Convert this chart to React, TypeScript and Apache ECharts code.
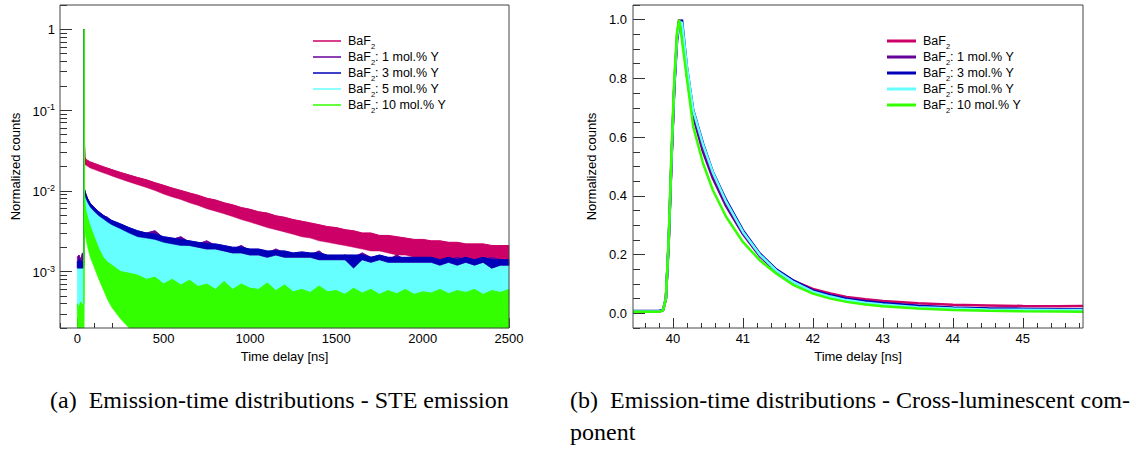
import React, { useEffect, useRef } from 'react';
import * as echarts from 'echarts';

// ---------- shared ----------
const seriesNames = ['BaF₂', 'BaF₂: 1 mol.% Y', 'BaF₂: 3 mol.% Y', 'BaF₂: 5 mol.% Y', 'BaF₂: 10 mol.% Y'];
const seriesColors = ['#cc0066', '#660099', '#0000b8', '#66ffff', '#33ff00'];

// ---------- (a) STE emission, log scale ----------
const steTime = [0, 10, 20, 30, 38, 40, 42, 45, 50, 60, 75, 100, 125, 150, 175, 200, 250,
  300, 350, 400, 450, 500, 550, 600, 650, 700, 750, 800, 850, 900, 950, 1000, 1050, 1100, 1150, 1200, 1250,
  1300, 1350, 1400, 1450, 1500, 1550, 1600, 1650, 1700, 1750, 1800, 1850, 1900, 1950, 2000, 2050, 2100, 2150,
  2200, 2250, 2300, 2350, 2400, 2450, 2500];

const steBaF2Upper = [0.00118, 0.00118, 0.00118, 0.00118, 0.00118, 1, 0.038, 0.026, 0.0245, 0.0238, 0.0228, 0.0218, 0.0208, 0.0199, 0.0191, 0.0183, 0.0169,
  0.0157, 0.0146, 0.0137, 0.0126, 0.0117, 0.0108, 0.0101, 0.0094, 0.0088, 0.0081, 0.0077, 0.0071, 0.0067, 0.0062, 0.0059,
  0.0055, 0.0053, 0.0049, 0.0047, 0.0044, 0.0042, 0.0040, 0.0038, 0.0036, 0.0035, 0.0033, 0.0032, 0.0030, 0.0030, 0.0028,
  0.0028, 0.0027, 0.0026, 0.0025, 0.0025, 0.0024, 0.0024, 0.0023, 0.0023, 0.0022, 0.0022, 0.0022, 0.0021, 0.0021, 0.0021];
const steBaF2Lower = [0.00112, 0.00112, 0.00112, 0.00112, 0.00112, 0.020, 0.021, 0.0212, 0.0207, 0.0201, 0.0192, 0.0183, 0.0175, 0.0167, 0.0160, 0.0153, 0.0140,
  0.0129, 0.0119, 0.0110, 0.0101, 0.0091, 0.0084, 0.0078, 0.0071, 0.0066, 0.0060, 0.0056, 0.0052, 0.0048, 0.0044, 0.0041,
  0.0038, 0.0035, 0.0033, 0.0031, 0.0029, 0.0027, 0.0026, 0.0024, 0.0023, 0.0022, 0.0021, 0.0020, 0.0019, 0.0018, 0.0018,
  0.0017, 0.0016, 0.0016, 0.0015, 0.0015, 0.0015, 0.0014, 0.0014, 0.0014, 0.0013, 0.0013, 0.0013, 0.0013, 0.0013, 0.0013];

const steY1Upper = [0.0015, 0.0016, 0.0014, 0.0017, 0.0014, 1, 0.0104, 0.0097, 0.0091, 0.0079, 0.0069, 0.0062, 0.0054, 0.0049, 0.0047, 0.0042, 0.0038,
  0.0034, 0.0031, 0.0030, 0.0032, 0.0026, 0.0025, 0.0027, 0.0023, 0.0022, 0.0024, 0.0021, 0.0020, 0.0019, 0.0021, 0.0018,
  0.0018, 0.0017, 0.0019, 0.0017, 0.0016, 0.0017, 0.0016, 0.0018, 0.0015, 0.0015, 0.0016, 0.0015, 0.0017, 0.0015, 0.0015,
  0.0014, 0.0016, 0.0014, 0.0014, 0.0014, 0.0014, 0.0014, 0.0014, 0.0015, 0.0014, 0.0014, 0.0014, 0.0015, 0.0014, 0.0013];
const steY1Lower = [0.00115, 0.00115, 0.00115, 0.00115, 0.00115, 0.0082, 0.0096, 0.0090, 0.0083, 0.0074, 0.0065, 0.0057, 0.0051, 0.0047, 0.0043, 0.0040, 0.0036,
  0.0031, 0.0028, 0.0027, 0.0026, 0.0024, 0.0023, 0.0022, 0.0021, 0.0020, 0.0019, 0.0019, 0.0018, 0.0017, 0.0017, 0.0016,
  0.0016, 0.0015, 0.0016, 0.0015, 0.0015, 0.0015, 0.0015, 0.0014, 0.0014, 0.0014, 0.0014, 0.0012, 0.0014, 0.0013, 0.0014,
  0.0013, 0.0013, 0.0013, 0.0013, 0.0013, 0.0013, 0.0012, 0.0013, 0.0012, 0.0013, 0.0012, 0.0013, 0.0011, 0.0012, 0.0012];

const steY3Upper = [0.0013, 0.0014, 0.00135, 0.0013, 0.0013, 1, 0.0105, 0.0098, 0.0090, 0.0080, 0.0070, 0.0061, 0.0055, 0.0050, 0.0046, 0.0043, 0.0039,
  0.0035, 0.0032, 0.0030, 0.0029, 0.0027, 0.0026, 0.0025, 0.0024, 0.0023, 0.0022, 0.0022, 0.0021, 0.0020, 0.0020, 0.0019,
  0.0019, 0.0018, 0.0018, 0.0018, 0.0017, 0.00175, 0.0017, 0.0017, 0.0016, 0.0016, 0.0016, 0.0016, 0.0016, 0.0015, 0.0016,
  0.0015, 0.0015, 0.0015, 0.0015, 0.0015, 0.0015, 0.0014, 0.0015, 0.0014, 0.0015, 0.0014, 0.0015, 0.0014, 0.0014, 0.0014];
const steY3Lower = [0.0011, 0.0011, 0.0011, 0.0011, 0.0011, 0.0080, 0.0094, 0.0088, 0.0081, 0.0072, 0.0063, 0.0055, 0.0049, 0.0045, 0.0041, 0.0038, 0.0034,
  0.0030, 0.0027, 0.0026, 0.0025, 0.0023, 0.0022, 0.0021, 0.0021, 0.0020, 0.0019, 0.0019, 0.0018, 0.0017, 0.0017, 0.0016,
  0.0016, 0.0015, 0.0016, 0.0015, 0.0015, 0.0015, 0.0015, 0.0014, 0.0014, 0.0014, 0.0014, 0.0011, 0.0014, 0.0013, 0.0014,
  0.0013, 0.0013, 0.0013, 0.0013, 0.0013, 0.0013, 0.0012, 0.0013, 0.0012, 0.0013, 0.0012, 0.0013, 0.0011, 0.0012, 0.0012];

const steY5Upper = [0.0011, 0.0011, 0.0011, 0.0011, 0.0011, 1, 0.0099, 0.0093, 0.0085, 0.0076, 0.0066, 0.0058, 0.0052, 0.0047, 0.0043, 0.0040, 0.0036,
  0.0031, 0.0028, 0.0027, 0.0026, 0.0024, 0.0023, 0.0022, 0.0022, 0.0021, 0.0020, 0.0020, 0.0019, 0.0018, 0.0018, 0.0017,
  0.0017, 0.0016, 0.0017, 0.0016, 0.0016, 0.0016, 0.0016, 0.0015, 0.0015, 0.0015, 0.0015, 0.0012, 0.0015, 0.0014, 0.0015,
  0.0014, 0.0014, 0.0014, 0.0014, 0.0014, 0.0014, 0.0013, 0.0014, 0.0013, 0.0014, 0.0013, 0.0014, 0.0012, 0.0013, 0.0013];
const steY5Lower = [0.0003, 0.0003, 0.0003, 0.0003, 0.0003, 0.003, 0.0075, 0.0058, 0.0048, 0.0039, 0.0030, 0.0022, 0.0016, 0.0013, 0.0011, 0.00095, 0.00085,
  0.0008, 0.0004, 0.0004, 0.0004, 0.0004, 0.0004, 0.0004, 0.0004, 0.0004, 0.0004, 0.0004, 0.0004, 0.0004, 0.0004, 0.0004,
  0.0004, 0.0004, 0.0004, 0.0004, 0.0004, 0.0004, 0.0004, 0.0004, 0.0004, 0.0004, 0.0004, 0.0004, 0.0004, 0.0004, 0.0004,
  0.0004, 0.0004, 0.0004, 0.0004, 0.0004, 0.0004, 0.0004, 0.0004, 0.0004, 0.0004, 0.0004, 0.0004, 0.0004, 0.0004, 0.0004];

const steY10Upper = [0.0004, 0.00035, 0.00042, 0.00038, 0.0004, 1, 0.009, 0.0066, 0.0056, 0.0046, 0.0036, 0.0026, 0.0019, 0.0015, 0.0013, 0.0012, 0.0010,
  0.00095, 0.0009, 0.0008, 0.00085, 0.0007, 0.0008, 0.00068, 0.00078, 0.00065, 0.0007, 0.0006, 0.00075, 0.0006, 0.0007, 0.00062,
  0.0006, 0.00072, 0.00058, 0.00068, 0.00056, 0.0006, 0.00055, 0.00066, 0.00056, 0.00058, 0.00052, 0.00062, 0.00054, 0.0006, 0.00052,
  0.00058, 0.00053, 0.0006, 0.00052, 0.00056, 0.00054, 0.0006, 0.00053, 0.00058, 0.00055, 0.0006, 0.00052, 0.00058, 0.00055, 0.0006];
const steY10Lower = [0.0002, 0.0002, 0.0002, 0.0002, 0.0002, 0.0002, 0.0035, 0.003, 0.0026, 0.002, 0.0015, 0.0011, 0.0008, 0.0006, 0.00045, 0.00036, 0.00026,
  0.0002, 0.0002, 0.0002, 0.0002, 0.0002, 0.0002, 0.0002, 0.0002, 0.0002, 0.0002, 0.0002, 0.0002, 0.0002, 0.0002, 0.0002,
  0.0002, 0.0002, 0.0002, 0.0002, 0.0002, 0.0002, 0.0002, 0.0002, 0.0002, 0.0002, 0.0002, 0.0002, 0.0002, 0.0002, 0.0002,
  0.0002, 0.0002, 0.0002, 0.0002, 0.0002, 0.0002, 0.0002, 0.0002, 0.0002, 0.0002, 0.0002, 0.0002, 0.0002, 0.0002, 0.0002];

const steXTicks = [0, 500, 1000, 1500, 2000, 2500];
const steYTicks = [0.001, 0.01, 0.1, 1];

// ---------- (b) cross-luminescent component, linear ----------
const clTime = [39.43, 39.6, 39.8, 39.86, 39.9, 39.94, 39.98, 40.02, 40.06, 40.09, 40.13, 40.2, 40.29, 40.43, 40.57, 40.76,
  41.0, 41.24, 41.48, 41.71, 42.0, 42.25, 42.48, 42.75, 43.0, 43.5, 44.0, 44.5, 45.0, 45.5, 45.86];
const clBaF2 = [0.005, 0.005, 0.005, 0.01, 0.05, 0.25, 0.53, 0.78, 0.95, 1.0, 0.97, 0.82, 0.68, 0.565, 0.47, 0.375,
  0.275, 0.2, 0.148, 0.112, 0.083, 0.068, 0.056, 0.048, 0.042, 0.034, 0.029, 0.027, 0.025, 0.024, 0.025];
const clY1 = [0.006, 0.006, 0.006, 0.011, 0.05, 0.24, 0.52, 0.77, 0.94, 1.0, 0.97, 0.81, 0.67, 0.55, 0.46, 0.365,
  0.27, 0.195, 0.142, 0.107, 0.076, 0.06, 0.048, 0.039, 0.033, 0.024, 0.019, 0.016, 0.015, 0.014, 0.014];
const clY3 = [0.008, 0.008, 0.008, 0.012, 0.05, 0.24, 0.52, 0.77, 0.93, 0.98, 1.0, 0.84, 0.693, 0.579, 0.482, 0.386,
  0.283, 0.204, 0.149, 0.113, 0.078, 0.062, 0.05, 0.041, 0.035, 0.026, 0.019, 0.016, 0.015, 0.014, 0.014];
const clY5 = [0.006, 0.006, 0.006, 0.011, 0.05, 0.25, 0.53, 0.78, 0.94, 0.99, 0.99, 0.84, 0.69, 0.575, 0.48, 0.38,
  0.278, 0.2, 0.145, 0.108, 0.074, 0.057, 0.045, 0.036, 0.03, 0.021, 0.016, 0.013, 0.012, 0.011, 0.011];
const clY10 = [0.005, 0.005, 0.005, 0.01, 0.05, 0.25, 0.55, 0.8, 0.96, 1.0, 0.93, 0.8, 0.636, 0.511, 0.42, 0.329,
  0.243, 0.181, 0.135, 0.098, 0.067, 0.05, 0.039, 0.03, 0.024, 0.016, 0.011, 0.0085, 0.007, 0.006, 0.005];

const clXTicks = [40, 41, 42, 43, 44, 45];
const clYTicks = [0, 0.2, 0.4, 0.6, 0.8, 1.0];

const captionA = '(a)\u00a0 Emission-time distributions - STE emission';
const captionB1 = '(b)\u00a0 Emission-time distributions - Cross-luminescent com-';
const captionB2 = 'ponent';

// ---------- styling helpers ----------
const FONT = 'Liberation Sans, Arial, Helvetica, sans-serif';
const SERIF = 'Liberation Serif, Times New Roman, serif';
const axisText = { color: '#000', fontFamily: FONT, fontSize: 13 };
const tickLine = { color: '#333', width: 1 };

function range(start: number, stop: number, step: number): number[] {
  const out: number[] = [];
  const n = Math.round((stop - start) / step);
  for (let i = 0; i <= n; i++) out.push(Math.round((start + i * step) * 1e6) / 1e6);
  return out;
}
function logMinor(lo: number, hi: number): number[] {
  const out: number[] = [];
  for (let e = -5; e <= 1; e++) {
    for (let k = 1; k <= 9; k++) {
      const v = Number((k * Math.pow(10, e)).toPrecision(3));
      if (v >= lo - 1e-12 && v <= hi + 1e-12) out.push(v);
    }
  }
  return out;
}

const legendRich = {
  a: { fontSize: 12.5, lineHeight: 14, verticalAlign: 'top', fontFamily: FONT, color: '#000' },
  s: { fontSize: 7.5, lineHeight: 7, verticalAlign: 'top', padding: [8, 0, 0, 0], fontFamily: FONT, color: '#000' },
};
function legendFormatter(name: string): string {
  if (name.startsWith('BaF₂')) {
    const rest = name.slice(4);
    return `{a|BaF}{s|2}` + (rest ? `{a|${rest}}` : '');
  }
  return name;
}

function makeLegend(left: number, itemWidth: number, itemHeight: number) {
  return {
    data: seriesNames,
    orient: 'vertical',
    left,
    top: 34,
    padding: 0,
    icon: 'rect',
    itemWidth,
    itemHeight,
    itemGap: 0,
    selectedMode: false,
    formatter: legendFormatter,
    textStyle: { ...axisText, fontSize: 12.5, padding: [0, 0, 0, 2], rich: legendRich },
  };
}

function buildSte() {
  const yMin = 0.0002;
  const yMax = 2;
  // drawing order: 5 mol.% first, then BaF2, 1, 3, 10 mol.%
  const bands = [
    { i: 3, upper: steY5Upper, lower: steY5Lower },
    { i: 0, upper: steBaF2Upper, lower: steBaF2Lower },
    { i: 1, upper: steY1Upper, lower: steY1Lower },
    { i: 2, upper: steY3Upper, lower: steY3Lower },
    { i: 4, upper: steY10Upper, lower: steY10Lower },
  ];
  const series: any[] = bands.map((b, order) => {
    const c = seriesColors[b.i];
    return {
      name: seriesNames[b.i],
      type: 'custom',
      silent: true,
      z: 2 + order,
      itemStyle: { color: c },
      encode: { x: 0, y: [1, 2] },
      data: steTime.map((t, k) => [t, b.lower[k], b.upper[k]]),
      renderItem: (params: any, api: any) => {
        if (params.dataIndex !== 0) return null;
        const top = steTime.map((t, k) => api.coord([t, b.upper[k]]));
        const bottom = steTime.map((t, k) => api.coord([t, b.lower[k]])).reverse();
        return {
          type: 'group',
          children: [
            { type: 'polygon', shape: { points: top.concat(bottom) }, style: { fill: c, stroke: c, lineWidth: 0.5 } },
            { type: 'polyline', shape: { points: top }, style: { stroke: c, lineWidth: 1, fill: null } },
          ],
        };
      },
    };
  });

  return {
    animation: false,
    backgroundColor: '#fff',
    grid: { left: 60, top: 5, width: 449, height: 323, show: true, borderColor: '#444', borderWidth: 1, backgroundColor: 'transparent', z: 10 },
    legend: makeLegend(313, 28, 1.5),
    xAxis: [
      {
        type: 'value', min: -100, max: 2500, position: 'bottom',
        axisLine: { show: false, onZero: false }, splitLine: { show: false },
        axisTick: { inside: true, length: 10, customValues: steXTicks, lineStyle: tickLine },
        axisLabel: { customValues: steXTicks, margin: 4, ...axisText, formatter: (v: number) => String(v) },
        name: 'Time delay [ns]', nameLocation: 'middle', nameGap: 12, nameTextStyle: axisText,
      },
      {
        type: 'value', min: -100, max: 2500, position: 'bottom',
        axisLine: { show: false, onZero: false }, splitLine: { show: false }, axisLabel: { show: false },
        axisTick: { inside: true, length: 5, customValues: range(-100, 2500, 100), lineStyle: tickLine },
      },
    ],
    yAxis: [
      {
        type: 'log', logBase: 10, min: yMin, max: yMax, position: 'left',
        axisLine: { show: false, onZero: false }, splitLine: { show: false },
        axisTick: { inside: true, length: 12, customValues: steYTicks, lineStyle: tickLine },
        axisLabel: {
          customValues: steYTicks, margin: 5, ...axisText,
          formatter: (v: number) => {
            if (v > 0.99) return '1';
            const e = Math.round(Math.log10(v));
            return `{b|10}{s|${e}}`;
          },
          rich: {
            b: { fontSize: 13, lineHeight: 15, verticalAlign: 'bottom', fontFamily: FONT, color: '#000' },
            s: { fontSize: 9, lineHeight: 9, verticalAlign: 'top', fontFamily: FONT, color: '#000' },
          },
        },
        name: 'Normalized counts', nameLocation: 'middle', nameGap: 36, nameTextStyle: axisText,
      },
      {
        type: 'log', logBase: 10, min: yMin, max: yMax, position: 'left',
        axisLine: { show: false, onZero: false }, splitLine: { show: false }, axisLabel: { show: false },
        axisTick: { inside: true, length: 7, customValues: logMinor(yMin, yMax), lineStyle: tickLine },
      },
    ],
    series,
    graphic: [
      { type: 'text', x: 50, y: 400, style: { text: captionA, fontSize: 24, fontFamily: SERIF, fill: '#000', verticalAlign: 'middle' } },
    ],
  };
}

function buildCl() {
  const lists = [clBaF2, clY1, clY3, clY5, clY10];
  const series = lists.map((vals, i) => ({
    name: seriesNames[i],
    type: 'line',
    symbol: 'none',
    silent: true,
    color: seriesColors[i],
    lineStyle: { color: seriesColors[i], width: 2.5 },
    data: clTime.map((t, k) => [t, vals[k]]),
  }));
  const xMin = 39.43;
  const xMax = 45.86;
  const yMin = -0.05;
  const yMax = 1.05;
  return {
    animation: false,
    backgroundColor: '#fff',
    grid: { left: 68, top: 5, width: 450, height: 323, show: true, borderColor: '#444', borderWidth: 1, backgroundColor: 'transparent', z: 10 },
    legend: makeLegend(322, 29, 3),
    xAxis: [
      {
        type: 'value', min: xMin, max: xMax, position: 'bottom',
        axisLine: { show: false, onZero: false }, splitLine: { show: false },
        axisTick: { inside: true, length: 10, customValues: clXTicks, lineStyle: tickLine },
        axisLabel: { customValues: clXTicks, margin: 4, ...axisText, formatter: (v: number) => String(v) },
        name: 'Time delay [ns]', nameLocation: 'middle', nameGap: 12, nameTextStyle: axisText,
      },
      {
        type: 'value', min: xMin, max: xMax, position: 'bottom',
        axisLine: { show: false, onZero: false }, splitLine: { show: false }, axisLabel: { show: false },
        axisTick: { inside: true, length: 5, customValues: range(39.6, 45.8, 0.2), lineStyle: tickLine },
      },
    ],
    yAxis: [
      {
        type: 'value', min: yMin, max: yMax, position: 'left',
        axisLine: { show: false, onZero: false }, splitLine: { show: false },
        axisTick: { inside: true, length: 12, customValues: clYTicks, lineStyle: tickLine },
        axisLabel: { customValues: clYTicks, margin: 6, ...axisText, formatter: (v: number) => v.toFixed(1) },
        name: 'Normalized counts', nameLocation: 'middle', nameGap: 30, nameTextStyle: axisText,
      },
      {
        type: 'value', min: yMin, max: yMax, position: 'left',
        axisLine: { show: false, onZero: false }, splitLine: { show: false }, axisLabel: { show: false },
        axisTick: { inside: true, length: 7, customValues: range(-0.05, 1.05, 0.05), lineStyle: tickLine },
      },
    ],
    series,
    graphic: [
      { type: 'text', x: 5, y: 400, style: { text: captionB1, fontSize: 24, fontFamily: SERIF, fill: '#000', verticalAlign: 'middle' } },
      { type: 'text', x: 5, y: 432, style: { text: captionB2, fontSize: 24, fontFamily: SERIF, fill: '#000', verticalAlign: 'middle' } },
    ],
  };
}

export default function App() {
  const leftRef = useRef<HTMLDivElement>(null);
  const rightRef = useRef<HTMLDivElement>(null);
  useEffect(() => {
    document.body.style.margin = '0';
    const left = echarts.init(leftRef.current!, null, { renderer: 'svg' });
    const right = echarts.init(rightRef.current!, null, { renderer: 'svg' });
    left.setOption(buildSte() as any);
    right.setOption(buildCl() as any);
    return () => {
      left.dispose();
      right.dispose();
    };
  }, []);
  return (
    <div style={{ position: 'absolute', left: 0, top: 0, width: 1145, height: 450, background: '#fff' }}>
      <div ref={leftRef} style={{ position: 'absolute', left: 0, top: 0, width: 565, height: 450 }} />
      <div ref={rightRef} style={{ position: 'absolute', left: 565, top: 0, width: 580, height: 450 }} />
    </div>
  );
}
